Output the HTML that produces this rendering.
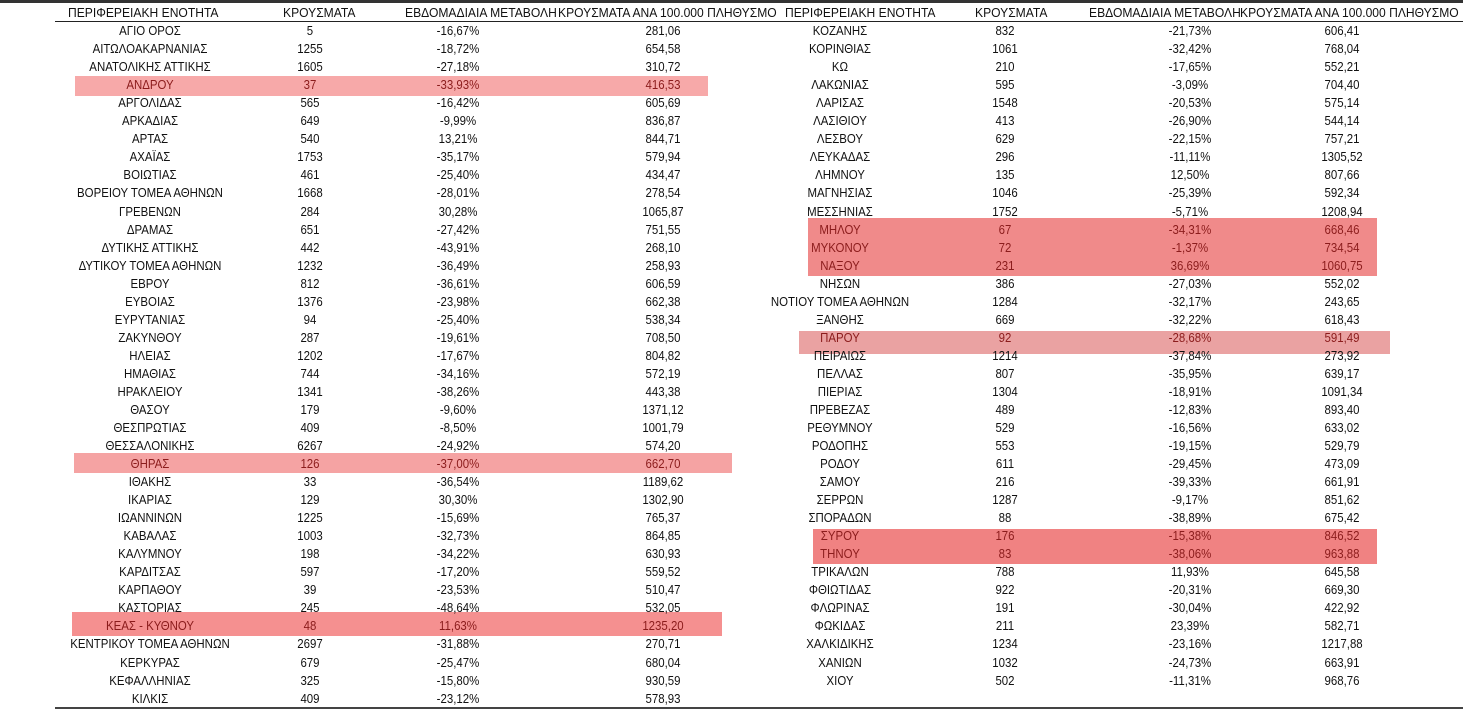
<!DOCTYPE html>
<html><head><meta charset="utf-8"><style>
body{margin:0;width:1463px;height:719px;background:#fff;position:relative;overflow:hidden;font-family:"Liberation Sans",sans-serif;font-size:13px;color:#111}
.top{position:absolute;left:0;top:0;width:1463px;height:3px;background:#333}
.hl{position:absolute}
.r{position:absolute;height:18px;line-height:18px;left:0;width:1463px}
.r span{position:absolute;text-align:center;white-space:nowrap;transform:scaleX(0.88);transform-origin:center}
.a{left:40px;width:220px}.b{left:260px;width:100px}.c{left:400px;width:116px}.d{left:600px;width:126px}
.e{left:720px;width:240px}.f{left:955px;width:100px}.g{left:1130px;width:120px}.h{left:1280px;width:124px}
.red{color:#8b1c1c}
.hd{position:absolute;top:5px;height:16px;line-height:16px;white-space:nowrap;font-size:13px;transform:scaleX(0.93);transform-origin:left}
.line{position:absolute;left:55px;width:1408px;height:1px;background:#222}
</style></head><body>
<div class="top"></div>
<div class="hd" style="left:68px">ΠΕΡΙΦΕΡΕΙΑΚΗ ΕΝΟΤΗΤΑ</div>
<div class="hd" style="left:283px">ΚΡΟΥΣΜΑΤΑ</div>
<div class="hd" style="left:405px">ΕΒΔΟΜΑΔΙΑΙΑ ΜΕΤΑΒΟΛΗ</div>
<div class="hd" style="left:558px">ΚΡΟΥΣΜΑΤΑ ΑΝΑ 100.000 ΠΛΗΘΥΣΜΟ</div>
<div class="hd" style="left:785px">ΠΕΡΙΦΕΡΕΙΑΚΗ ΕΝΟΤΗΤΑ</div>
<div class="hd" style="left:975px">ΚΡΟΥΣΜΑΤΑ</div>
<div class="hd" style="left:1089px">ΕΒΔΟΜΑΔΙΑΙΑ ΜΕΤΑΒΟΛΗ</div>
<div class="hd" style="left:1240px">ΚΡΟΥΣΜΑΤΑ ΑΝΑ 100.000 ΠΛΗΘΥΣΜΟ</div>
<div class="line" style="top:21px"></div>
<div class="line" style="top:707px;height:2px;background:#444"></div>

<div class="hl" style="left:75px;top:76px;width:633px;height:20px;background:#f7a9a9"></div>
<div class="hl" style="left:74px;top:453px;width:658px;height:20px;background:#f5a3a3"></div>
<div class="hl" style="left:72px;top:612px;width:650px;height:24px;background:#f59090"></div>
<div class="hl" style="left:808px;top:218px;width:569px;height:58px;background:#f08a8a"></div>
<div class="hl" style="left:799px;top:331px;width:591px;height:23px;background:#eaa2a2"></div>
<div class="hl" style="left:813px;top:529px;width:564px;height:35px;background:#f08282"></div>

<div class="r" style="top:22px"><span class="a">ΑΓΙΟ ΟΡΟΣ</span><span class="b">5</span><span class="c">-16,67%</span><span class="d">281,06</span><span class="e">ΚΟΖΑΝΗΣ</span><span class="f">832</span><span class="g">-21,73%</span><span class="h">606,41</span></div>
<div class="r" style="top:40px"><span class="a">ΑΙΤΩΛΟΑΚΑΡΝΑΝΙΑΣ</span><span class="b">1255</span><span class="c">-18,72%</span><span class="d">654,58</span><span class="e">ΚΟΡΙΝΘΙΑΣ</span><span class="f">1061</span><span class="g">-32,42%</span><span class="h">768,04</span></div>
<div class="r" style="top:58px"><span class="a">ΑΝΑΤΟΛΙΚΗΣ ΑΤΤΙΚΗΣ</span><span class="b">1605</span><span class="c">-27,18%</span><span class="d">310,72</span><span class="e">ΚΩ</span><span class="f">210</span><span class="g">-17,65%</span><span class="h">552,21</span></div>
<div class="r" style="top:76px"><span class="a red">ΑΝΔΡΟΥ</span><span class="b red">37</span><span class="c red">-33,93%</span><span class="d red">416,53</span><span class="e">ΛΑΚΩΝΙΑΣ</span><span class="f">595</span><span class="g">-3,09%</span><span class="h">704,40</span></div>
<div class="r" style="top:94px"><span class="a">ΑΡΓΟΛΙΔΑΣ</span><span class="b">565</span><span class="c">-16,42%</span><span class="d">605,69</span><span class="e">ΛΑΡΙΣΑΣ</span><span class="f">1548</span><span class="g">-20,53%</span><span class="h">575,14</span></div>
<div class="r" style="top:112px"><span class="a">ΑΡΚΑΔΙΑΣ</span><span class="b">649</span><span class="c">-9,99%</span><span class="d">836,87</span><span class="e">ΛΑΣΙΘΙΟΥ</span><span class="f">413</span><span class="g">-26,90%</span><span class="h">544,14</span></div>
<div class="r" style="top:130px"><span class="a">ΑΡΤΑΣ</span><span class="b">540</span><span class="c">13,21%</span><span class="d">844,71</span><span class="e">ΛΕΣΒΟΥ</span><span class="f">629</span><span class="g">-22,15%</span><span class="h">757,21</span></div>
<div class="r" style="top:148px"><span class="a">ΑΧΑΪΑΣ</span><span class="b">1753</span><span class="c">-35,17%</span><span class="d">579,94</span><span class="e">ΛΕΥΚΑΔΑΣ</span><span class="f">296</span><span class="g">-11,11%</span><span class="h">1305,52</span></div>
<div class="r" style="top:166px"><span class="a">ΒΟΙΩΤΙΑΣ</span><span class="b">461</span><span class="c">-25,40%</span><span class="d">434,47</span><span class="e">ΛΗΜΝΟΥ</span><span class="f">135</span><span class="g">12,50%</span><span class="h">807,66</span></div>
<div class="r" style="top:184px"><span class="a">ΒΟΡΕΙΟΥ ΤΟΜΕΑ ΑΘΗΝΩΝ</span><span class="b">1668</span><span class="c">-28,01%</span><span class="d">278,54</span><span class="e">ΜΑΓΝΗΣΙΑΣ</span><span class="f">1046</span><span class="g">-25,39%</span><span class="h">592,34</span></div>
<div class="r" style="top:203px"><span class="a">ΓΡΕΒΕΝΩΝ</span><span class="b">284</span><span class="c">30,28%</span><span class="d">1065,87</span><span class="e">ΜΕΣΣΗΝΙΑΣ</span><span class="f">1752</span><span class="g">-5,71%</span><span class="h">1208,94</span></div>
<div class="r" style="top:221px"><span class="a">ΔΡΑΜΑΣ</span><span class="b">651</span><span class="c">-27,42%</span><span class="d">751,55</span><span class="e red">ΜΗΛΟΥ</span><span class="f red">67</span><span class="g red">-34,31%</span><span class="h red">668,46</span></div>
<div class="r" style="top:239px"><span class="a">ΔΥΤΙΚΗΣ ΑΤΤΙΚΗΣ</span><span class="b">442</span><span class="c">-43,91%</span><span class="d">268,10</span><span class="e red">ΜΥΚΟΝΟΥ</span><span class="f red">72</span><span class="g red">-1,37%</span><span class="h red">734,54</span></div>
<div class="r" style="top:257px"><span class="a">ΔΥΤΙΚΟΥ ΤΟΜΕΑ ΑΘΗΝΩΝ</span><span class="b">1232</span><span class="c">-36,49%</span><span class="d">258,93</span><span class="e red">ΝΑΞΟΥ</span><span class="f red">231</span><span class="g red">36,69%</span><span class="h red">1060,75</span></div>
<div class="r" style="top:275px"><span class="a">ΕΒΡΟΥ</span><span class="b">812</span><span class="c">-36,61%</span><span class="d">606,59</span><span class="e">ΝΗΣΩΝ</span><span class="f">386</span><span class="g">-27,03%</span><span class="h">552,02</span></div>
<div class="r" style="top:293px"><span class="a">ΕΥΒΟΙΑΣ</span><span class="b">1376</span><span class="c">-23,98%</span><span class="d">662,38</span><span class="e">ΝΟΤΙΟΥ ΤΟΜΕΑ ΑΘΗΝΩΝ</span><span class="f">1284</span><span class="g">-32,17%</span><span class="h">243,65</span></div>
<div class="r" style="top:311px"><span class="a">ΕΥΡΥΤΑΝΙΑΣ</span><span class="b">94</span><span class="c">-25,40%</span><span class="d">538,34</span><span class="e">ΞΑΝΘΗΣ</span><span class="f">669</span><span class="g">-32,22%</span><span class="h">618,43</span></div>
<div class="r" style="top:329px"><span class="a">ΖΑΚΥΝΘΟΥ</span><span class="b">287</span><span class="c">-19,61%</span><span class="d">708,50</span><span class="e red">ΠΑΡΟΥ</span><span class="f red">92</span><span class="g red">-28,68%</span><span class="h red">591,49</span></div>
<div class="r" style="top:347px"><span class="a">ΗΛΕΙΑΣ</span><span class="b">1202</span><span class="c">-17,67%</span><span class="d">804,82</span><span class="e">ΠΕΙΡΑΙΩΣ</span><span class="f">1214</span><span class="g">-37,84%</span><span class="h">273,92</span></div>
<div class="r" style="top:365px"><span class="a">ΗΜΑΘΙΑΣ</span><span class="b">744</span><span class="c">-34,16%</span><span class="d">572,19</span><span class="e">ΠΕΛΛΑΣ</span><span class="f">807</span><span class="g">-35,95%</span><span class="h">639,17</span></div>
<div class="r" style="top:383px"><span class="a">ΗΡΑΚΛΕΙΟΥ</span><span class="b">1341</span><span class="c">-38,26%</span><span class="d">443,38</span><span class="e">ΠΙΕΡΙΑΣ</span><span class="f">1304</span><span class="g">-18,91%</span><span class="h">1091,34</span></div>
<div class="r" style="top:401px"><span class="a">ΘΑΣΟΥ</span><span class="b">179</span><span class="c">-9,60%</span><span class="d">1371,12</span><span class="e">ΠΡΕΒΕΖΑΣ</span><span class="f">489</span><span class="g">-12,83%</span><span class="h">893,40</span></div>
<div class="r" style="top:419px"><span class="a">ΘΕΣΠΡΩΤΙΑΣ</span><span class="b">409</span><span class="c">-8,50%</span><span class="d">1001,79</span><span class="e">ΡΕΘΥΜΝΟΥ</span><span class="f">529</span><span class="g">-16,56%</span><span class="h">633,02</span></div>
<div class="r" style="top:437px"><span class="a">ΘΕΣΣΑΛΟΝΙΚΗΣ</span><span class="b">6267</span><span class="c">-24,92%</span><span class="d">574,20</span><span class="e">ΡΟΔΟΠΗΣ</span><span class="f">553</span><span class="g">-19,15%</span><span class="h">529,79</span></div>
<div class="r" style="top:455px"><span class="a red">ΘΗΡΑΣ</span><span class="b red">126</span><span class="c red">-37,00%</span><span class="d red">662,70</span><span class="e">ΡΟΔΟΥ</span><span class="f">611</span><span class="g">-29,45%</span><span class="h">473,09</span></div>
<div class="r" style="top:473px"><span class="a">ΙΘΑΚΗΣ</span><span class="b">33</span><span class="c">-36,54%</span><span class="d">1189,62</span><span class="e">ΣΑΜΟΥ</span><span class="f">216</span><span class="g">-39,33%</span><span class="h">661,91</span></div>
<div class="r" style="top:491px"><span class="a">ΙΚΑΡΙΑΣ</span><span class="b">129</span><span class="c">30,30%</span><span class="d">1302,90</span><span class="e">ΣΕΡΡΩΝ</span><span class="f">1287</span><span class="g">-9,17%</span><span class="h">851,62</span></div>
<div class="r" style="top:509px"><span class="a">ΙΩΑΝΝΙΝΩΝ</span><span class="b">1225</span><span class="c">-15,69%</span><span class="d">765,37</span><span class="e">ΣΠΟΡΑΔΩΝ</span><span class="f">88</span><span class="g">-38,89%</span><span class="h">675,42</span></div>
<div class="r" style="top:527px"><span class="a">ΚΑΒΑΛΑΣ</span><span class="b">1003</span><span class="c">-32,73%</span><span class="d">864,85</span><span class="e red">ΣΥΡΟΥ</span><span class="f red">176</span><span class="g red">-15,38%</span><span class="h red">846,52</span></div>
<div class="r" style="top:545px"><span class="a">ΚΑΛΥΜΝΟΥ</span><span class="b">198</span><span class="c">-34,22%</span><span class="d">630,93</span><span class="e red">ΤΗΝΟΥ</span><span class="f red">83</span><span class="g red">-38,06%</span><span class="h red">963,88</span></div>
<div class="r" style="top:563px"><span class="a">ΚΑΡΔΙΤΣΑΣ</span><span class="b">597</span><span class="c">-17,20%</span><span class="d">559,52</span><span class="e">ΤΡΙΚΑΛΩΝ</span><span class="f">788</span><span class="g">11,93%</span><span class="h">645,58</span></div>
<div class="r" style="top:581px"><span class="a">ΚΑΡΠΑΘΟΥ</span><span class="b">39</span><span class="c">-23,53%</span><span class="d">510,47</span><span class="e">ΦΘΙΩΤΙΔΑΣ</span><span class="f">922</span><span class="g">-20,31%</span><span class="h">669,30</span></div>
<div class="r" style="top:599px"><span class="a">ΚΑΣΤΟΡΙΑΣ</span><span class="b">245</span><span class="c">-48,64%</span><span class="d">532,05</span><span class="e">ΦΛΩΡΙΝΑΣ</span><span class="f">191</span><span class="g">-30,04%</span><span class="h">422,92</span></div>
<div class="r" style="top:617px"><span class="a red">ΚΕΑΣ - ΚΥΘΝΟΥ</span><span class="b red">48</span><span class="c red">11,63%</span><span class="d red">1235,20</span><span class="e">ΦΩΚΙΔΑΣ</span><span class="f">211</span><span class="g">23,39%</span><span class="h">582,71</span></div>
<div class="r" style="top:635px"><span class="a">ΚΕΝΤΡΙΚΟΥ ΤΟΜΕΑ ΑΘΗΝΩΝ</span><span class="b">2697</span><span class="c">-31,88%</span><span class="d">270,71</span><span class="e">ΧΑΛΚΙΔΙΚΗΣ</span><span class="f">1234</span><span class="g">-23,16%</span><span class="h">1217,88</span></div>
<div class="r" style="top:654px"><span class="a">ΚΕΡΚΥΡΑΣ</span><span class="b">679</span><span class="c">-25,47%</span><span class="d">680,04</span><span class="e">ΧΑΝΙΩΝ</span><span class="f">1032</span><span class="g">-24,73%</span><span class="h">663,91</span></div>
<div class="r" style="top:672px"><span class="a">ΚΕΦΑΛΛΗΝΙΑΣ</span><span class="b">325</span><span class="c">-15,80%</span><span class="d">930,59</span><span class="e">ΧΙΟΥ</span><span class="f">502</span><span class="g">-11,31%</span><span class="h">968,76</span></div>
<div class="r" style="top:690px"><span class="a">ΚΙΛΚΙΣ</span><span class="b">409</span><span class="c">-23,12%</span><span class="d">578,93</span></div>
</body></html>
